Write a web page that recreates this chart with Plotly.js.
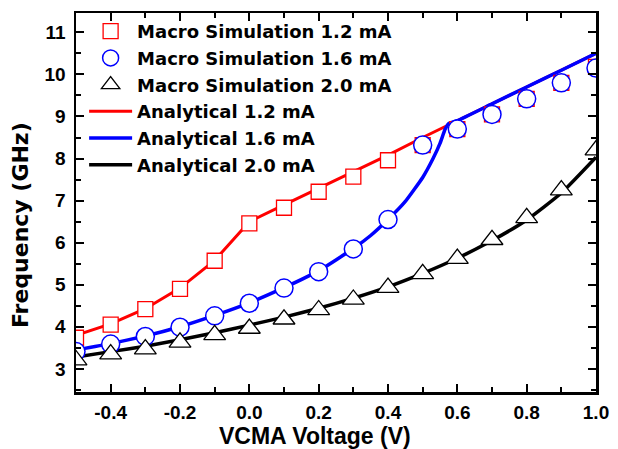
<!DOCTYPE html>
<html>
<head>
<meta charset="utf-8">
<script src="https://cdn.plot.ly/plotly-3.0.1.min.js"></script>
<style>html,body{margin:0;padding:0;background:#fff;}#chart{width:618px;height:449px;}</style>
</head>
<body>
<div id="chart"></div>
<script>
// ---- data ----
var simVoltage = [-0.5,-0.4,-0.3,-0.2,-0.1,0.0,0.1,0.2,0.3,0.4,0.5,0.6,0.7,0.8,0.9,1.0];
var sim12 = [3.74,4.05,4.42,4.90,5.57,6.46,6.83,7.21,7.57,7.96,8.32,8.70,9.05,9.42,9.80,10.18];
var sim16 = [3.41,3.59,3.77,3.99,4.26,4.56,4.92,5.31,5.85,6.55,8.32,8.70,9.05,9.42,9.80,10.15];
var sim20 = [3.21,3.35,3.47,3.63,3.81,3.96,4.18,4.40,4.65,4.93,5.26,5.62,6.07,6.59,7.25,8.20];

var ana12Voltage = [-0.5,-0.4,-0.3,-0.2,-0.1,0.0,0.1,0.2,0.3,0.4,0.5,0.6,0.7,0.8,0.9,1.0];
var ana12 = [3.80,4.07,4.43,4.92,5.58,6.50,6.90,7.29,7.68,8.08,8.50,8.90,9.30,9.70,10.10,10.50];

var ana16Voltage = [-0.5,-0.4,-0.3,-0.2,-0.1,0.0,0.1,0.2,0.3,0.35,0.4,0.45,0.5,0.53,0.55,0.565,0.575,0.6,0.7,0.8,0.9,1.0];
var ana16 = [3.45,3.60,3.78,4.00,4.27,4.57,4.93,5.33,5.86,6.17,6.55,6.98,7.55,8.00,8.36,8.70,8.83,8.90,9.30,9.70,10.10,10.50];

var ana20Voltage = [-0.5,-0.4,-0.3,-0.2,-0.1,0.0,0.1,0.2,0.3,0.4,0.5,0.6,0.7,0.8,0.9,1.0];
var ana20 = [3.28,3.41,3.54,3.69,3.86,4.04,4.23,4.44,4.68,4.95,5.27,5.63,6.05,6.54,7.18,8.03];

var xTickVals = [-0.4,-0.2,0.0,0.2,0.4,0.6,0.8,1.0];
var xTickText = ["-0.4","-0.2","0.0","0.2","0.4","0.6","0.8","1.0"];
var yTickVals = [3,4,5,6,7,8,9,10,11];
var yTickText = ["3","4","5","6","7","8","9","10","11"];

var names = ["Macro Simulation 1.2 mA","Macro Simulation 1.6 mA","Macro Simulation 2.0 mA",
             "Analytical 1.2 mA","Analytical 1.6 mA","Analytical 2.0 mA"];

// ---- traces ----
var RED = "#ff0000", BLUE = "#0000ff", BLACK = "#000000";
var traces = [
  {x: ana12Voltage, y: ana12, mode: "lines", name: names[3], legendrank: 4, legendgroup: "g4",
   line: {color: RED, width: 3}},
  {x: ana16Voltage, y: ana16, mode: "lines", name: names[4], legendrank: 5, legendgroup: "g5",
   line: {color: BLUE, width: 3.5, shape: "spline", smoothing: 0.4}},
  {x: ana20Voltage, y: ana20, mode: "lines", name: names[5], legendrank: 6, legendgroup: "g6",
   line: {color: BLACK, width: 3.5, shape: "spline", smoothing: 0.5}},
  {x: simVoltage, y: sim12, mode: "markers", name: names[0], legendrank: 1, legendgroup: "g1",
   marker: {symbol: "square", size: 15, color: "#ffffff", line: {color: RED, width: 1.3}}},
  {x: simVoltage, y: sim16, mode: "markers", name: names[1], legendrank: 2, legendgroup: "g2",
   marker: {symbol: "circle", size: 18, color: "#ffffff", line: {color: BLUE, width: 1.5}}},
  {x: simVoltage, y: sim20, mode: "markers", name: names[2], legendrank: 3, legendgroup: "g3",
   marker: {symbol: "triangle-up", size: 19, color: "#ffffff", line: {color: BLACK, width: 1.3}}}
];

var tickFont = {family: "Liberation Sans, Arial, sans-serif", size: 19, color: "#000", weight: "bold"};
var xTitleFont = {family: "Liberation Sans, Arial, sans-serif", size: 23, color: "#000", weight: "bold"};
var yTitleFont = {family: "DejaVu Sans, sans-serif", size: 22, color: "#000", weight: "bold"};

var axisCommon = {
  showline: true, linecolor: "#000", linewidth: 2.5, mirror: "allticks",
  ticks: "inside", ticklen: 8, tickwidth: 2, tickcolor: "#000",
  showgrid: false, zeroline: false, tickfont: tickFont, tickmode: "array"
};

var layout = {
  width: 618, height: 449,
  margin: {l: 76, r: 22, t: 13, b: 57, pad: 0},
  paper_bgcolor: "#ffffff", plot_bgcolor: "#ffffff",
  showlegend: true,
  legend: {x: 0.0156, y: 1.0, xanchor: "left", yanchor: "top", bgcolor: "rgba(0,0,0,0)",
           font: {family: "DejaVu Sans, sans-serif", size: 18, color: "#000", weight: "bold"},
           itemwidth: 43, tracegroupgap: 0.3, traceorder: "grouped"},
  xaxis: Object.assign({}, axisCommon, {
    range: [-0.5, 1.0], tickvals: xTickVals, ticktext: xTickText, ticklabelstandoff: 2,
    minor: {dtick: 0.1, tick0: 0, ticks: "inside", ticklen: 5, tickwidth: 2, tickcolor: "#000"}
  }),
  yaxis: Object.assign({}, axisCommon, {
    range: [2.45, 11.46], tickvals: yTickVals, ticktext: yTickText, ticklabelstandoff: 4,
    minor: {dtick: 0.5, tick0: 0, ticks: "inside", ticklen: 5, tickwidth: 2, tickcolor: "#000"}
  }),
  annotations: [
    {text: "VCMA Voltage (V)", xref: "paper", yref: "paper", x: 0.46, y: -0.116,
     xanchor: "center", yanchor: "middle", showarrow: false, font: xTitleFont},
    {text: "Frequency (GHz)", xref: "paper", yref: "paper", x: -0.108, y: 0.44,
     xanchor: "center", yanchor: "middle", textangle: -90, showarrow: false, font: yTitleFont}
  ]
};

Plotly.newPlot("chart", traces, layout, {displayModeBar: false, staticPlot: true});
</script>
</body>
</html>
